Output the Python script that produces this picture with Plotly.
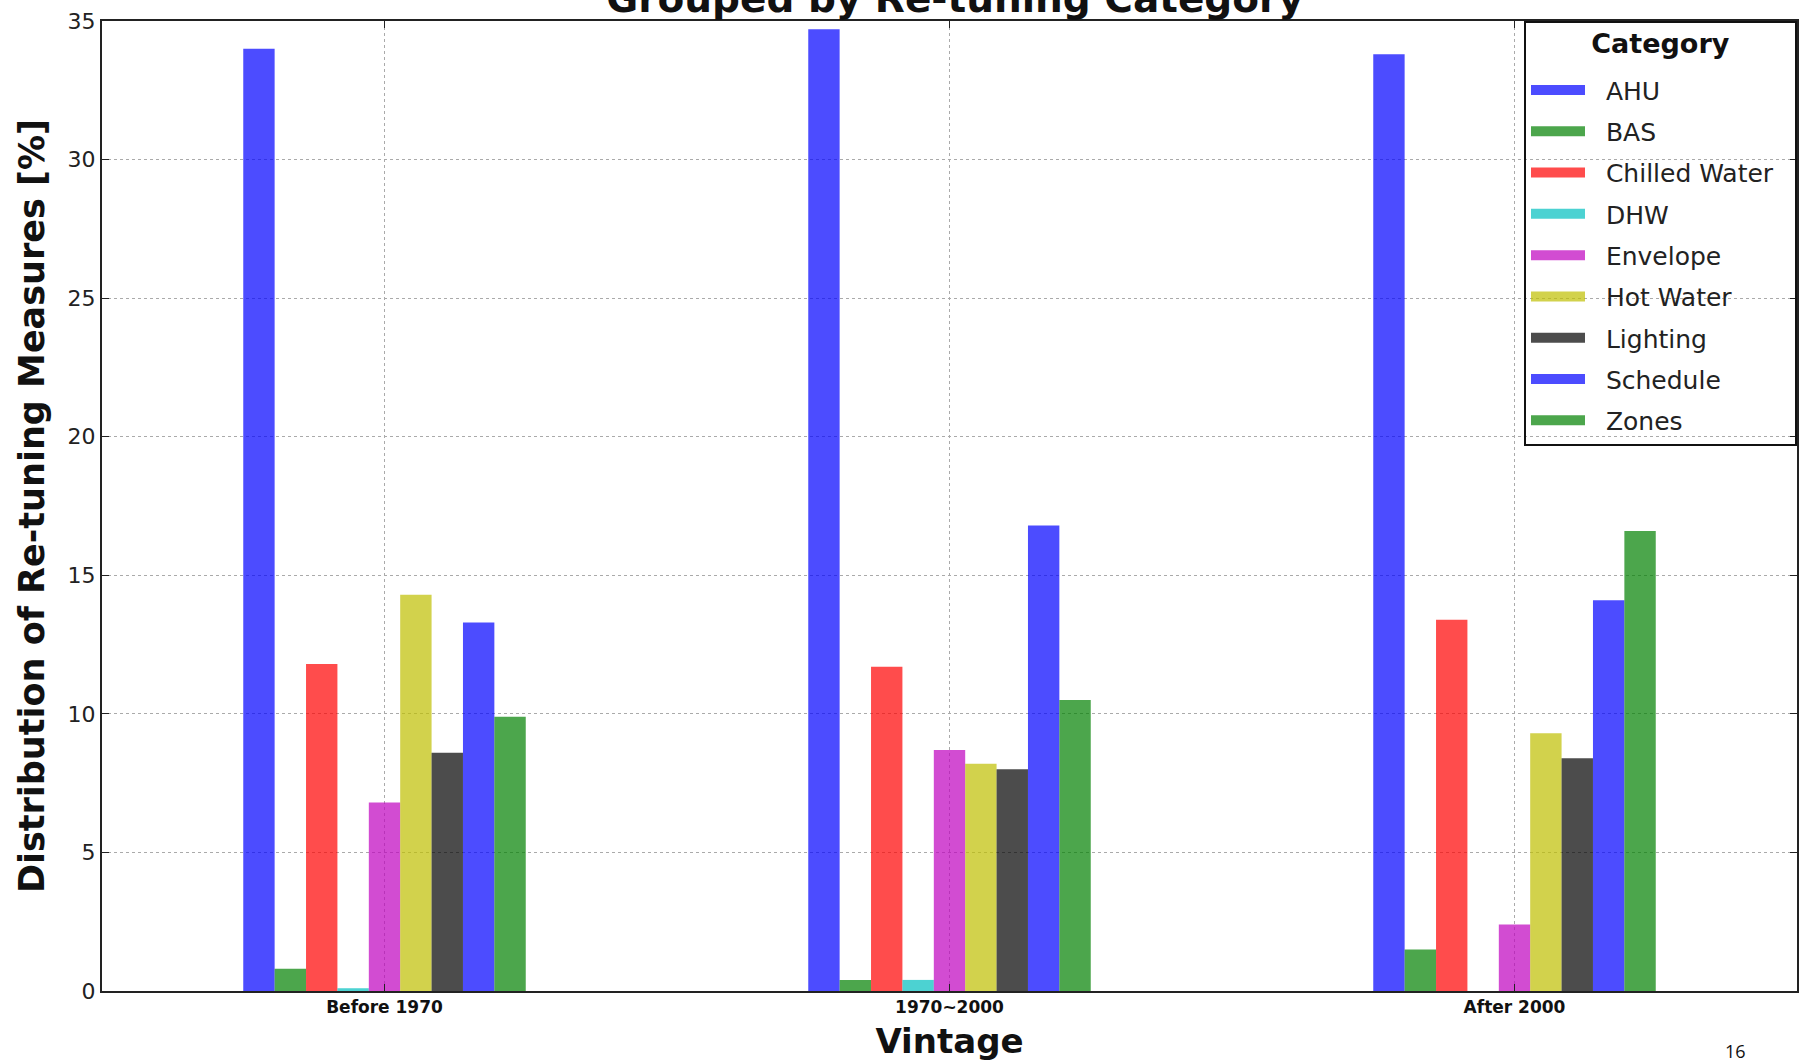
import plotly.graph_objects as go

vintages = ["Before 1970", "1970~2000", "After 2000"]
categories = ["AHU", "BAS", "Chilled Water", "DHW", "Envelope",
              "Hot Water", "Lighting", "Schedule", "Zones"]

# values per category, in order of vintages [%]
ahu = [34.0, 34.7, 33.8]
bas = [0.8, 0.4, 1.5]
chilled_water = [11.8, 11.7, 13.4]
dhw = [0.1, 0.4, 0.0]
envelope = [6.8, 8.7, 2.4]
hot_water = [14.3, 8.2, 9.3]
lighting = [8.6, 8.0, 8.4]
schedule = [13.3, 16.8, 14.1]
zones = [9.9, 10.5, 16.6]

series = [ahu, bas, chilled_water, dhw, envelope, hot_water, lighting, schedule, zones]
colors = [
    "rgba(0,0,255,0.7)", "rgba(0,128,0,0.7)", "rgba(255,0,0,0.7)",
    "rgba(0,191,191,0.7)", "rgba(191,0,191,0.7)", "rgba(191,191,0,0.7)",
    "rgba(0,0,0,0.7)", "rgba(0,0,255,0.7)", "rgba(0,128,0,0.7)",
]

FONT = "DejaVu Sans"
NB = "\u00a0"

fig = go.Figure()
for name, vals, col in zip(categories, series, colors):
    fig.add_trace(go.Bar(
        x=vintages, y=vals, name=name, marker=dict(color=col, line=dict(width=0)),
        legendgroup=name, showlegend=False,
    ))
    # legend swatch (no data points)
    fig.add_trace(go.Scatter(
        x=[None], y=[None], mode="lines", name=NB * 2 + name + NB * 2,
        legendgroup=name,
        line=dict(color=col, width=16), showlegend=True, hoverinfo="skip",
    ))

fig.update_layout(
    width=1806, height=1061,
    margin=dict(l=102, r=9, t=21, b=70),
    paper_bgcolor="white", plot_bgcolor="white",
    barmode="group", bargap=0.5, bargroupgap=0.0,
    font=dict(family=FONT, color="#222222"),
    title=dict(
        text="Grouped by Re-tuning Category",
        font=dict(family=FONT, size=39, color="#111111", weight="bold"),
        xref="container", x=955 / 1806, xanchor="center",
        yref="container", y=(1061 - 12) / 1061, yanchor="bottom",
    ),
    legend=dict(
        title=dict(text="<sup><span style='font-size:27px'>Category</span></sup>",
                   side="top center",
                   font=dict(family=FONT, size=34, color="#111111", weight="bold")),
        font=dict(family=FONT, size=25, color="#222222"),
        x=1, xanchor="right", y=1, yanchor="top",
        bgcolor="rgba(0,0,0,0)", bordercolor="#111111", borderwidth=2,
        traceorder="grouped", tracegroupgap=5.8, itemwidth=54,
    ),
    showlegend=True,
)

fig.update_xaxes(
    type="category", range=[-0.5, 2.5], automargin=False,
    showline=True, linecolor="#222222", linewidth=2, mirror="allticks",
    ticks="inside", ticklen=7, tickcolor="#222222",
    showgrid=True, gridcolor="#aaaaaa", griddash="dot", gridwidth=1,
    tickfont=dict(family=FONT, size=17, color="#111111", weight="bold"),
    title=dict(text="Vintage", standoff=16,
               font=dict(family=FONT, size=34, color="#111111", weight="bold")),
)
fig.update_yaxes(
    range=[0, 35], dtick=5, automargin=False,
    showline=True, linecolor="#222222", linewidth=2, mirror="allticks",
    ticks="inside", ticklen=7, tickcolor="#222222",
    showgrid=True, gridcolor="#aaaaaa", griddash="dot", gridwidth=1,
    zeroline=False,
    tickfont=dict(family=FONT, size=22, color="#222222"),
    title=dict(text="Distribution of Re-tuning Measures [%]", standoff=12,
               font=dict(family=FONT, size=35, color="#111111", weight="bold")),
)

fig.add_annotation(
    text="16", xref="paper", yref="paper",
    x=(1748 - 102) / 1695, y=(991 - 1037) / 970, yanchor="top",
    showarrow=False, font=dict(family="Open Sans", size=18, color="#111111"),
)

fig.write_html(
    "out.html",
    config={"displayModeBar": False},
    post_script="document.body.style.margin='0';document.body.style.overflow='hidden';",
)
